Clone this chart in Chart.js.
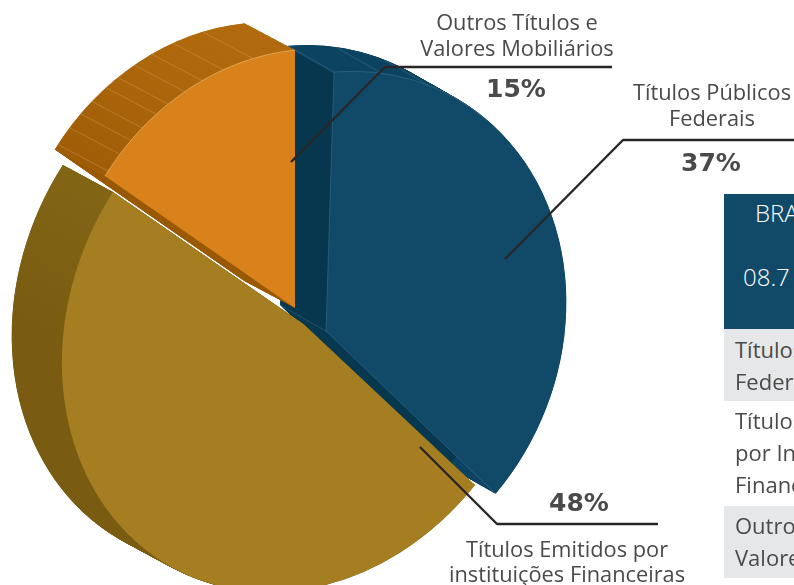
<!DOCTYPE html>
<html>
<head>
<meta charset="utf-8">
<script src="https://cdn.jsdelivr.net/npm/chart.js@4/dist/chart.umd.min.js"></script>
<style>
  html, body { margin: 0; padding: 0; background: #fff; overflow: hidden; }
  #wrap { position: relative; width: 794px; height: 585px; overflow: hidden; }
  canvas { position: absolute; left: 0; top: 0; }
  #tbl { position: absolute; left: 724px; top: 194px; width: 70px; height: 384px; overflow: hidden;
         font-family: "Open Sans", sans-serif; font-size: 22px; color: #4a4a4a; }
  #tbl div { position: absolute; left: 0; width: 200px; white-space: nowrap; }
  #tbl span { position: absolute; white-space: nowrap; }
</style>
</head>
<body>
<div id="wrap">
  <canvas id="pie" width="794" height="585"></canvas>
  <div id="tbl"></div>
</div>
<script>
const categories = ['Títulos Públicos Federais', 'Títulos Emitidos por instituições Financeiras', 'Outros Títulos e Valores Mobiliários'];
const shares = [37, 48, 15];
const faceColors = ['#104A68', '#A67E22', '#D9811A'];

const tableHead = ['BRA', '08.7'];
const tableRows = [['Títulos Públicos', 'Federais'], ['Títulos Emitidos', 'por Instituições', 'Financeiras'], ['Outros Títulos e', 'Valores Mobiliários']];

// how each flat slice is laid on the page: centre, image of the up and right radius, extrusion
const sliceForms = [
    { cx: 326, cy: 331, up: [8, -259], right: [240, -20], wall: [-46, -26], wallColor: '#07384F', rim: ['#0C4361', '#0C4361', -1, 0], hatch: [0, 11.5, 23.6] },
    { cx: 304, cy: 324.4, up: [8, -266], right: [242, -29.6], wall: [-50, -27], wallColor: '#7A5C12', rim: ['#836516', '#795B11', -0.6, 0], hatch: [] },
    { cx: 295, cy: 308, up: [0, -258], right: [235, -24.4], wall: [-50, -26.5], wallColor: '#9A5A05', rim: ['#B16A0D', '#9B5A05', -1, -0.5], hatch: [-52.7, -48.2, -44.3, -40.6, -36.2, -32.7, -28, -23.3, -17.8, -10.3] }
];

const callouts = [
    { slice: 2, line: [[291, 162], [385, 67], [612, 67]], x: 517, names: [['Outros Títulos e', 30], ['Valores Mobiliários', 56]], pctX: 516, pctY: 97 },
    { slice: 0, line: [[505, 259], [623, 140], [794, 140]], x: 712, names: [['Títulos Públicos', 100], ['Federais', 126]], pctX: 711, pctY: 171 },
    { slice: 1, line: [[420, 447], [497, 524], [658, 524]], x: 567, names: [['Títulos Emitidos por', 557], ['instituições Financeiras', 582]], pctX: 579, pctY: 511 }
];

function applyForm(ctx, el, f) {
    const R = el.outerRadius;
    ctx.transform(f.right[0] / R, f.right[1] / R, -f.up[0] / R, -f.up[1] / R, f.cx, f.cy);
    ctx.translate(-el.x, -el.y);
}

function sectorPath(ctx, el) {
    ctx.beginPath();
    ctx.moveTo(el.x, el.y);
    ctx.arc(el.x, el.y, el.outerRadius, el.startAngle, el.endAngle);
    ctx.closePath();
}

function pagePoint(f, deg) {
    const t = deg * Math.PI / 180;
    return [f.cx + Math.cos(t) * f.up[0] + Math.sin(t) * f.right[0], f.cy + Math.cos(t) * f.up[1] + Math.sin(t) * f.right[1]];
}

function drawSlice(ctx, el, f) {
    const steps = Math.ceil(Math.hypot(f.wall[0], f.wall[1]));
    const R = el.outerRadius;

    // side walls first, swept from the far end to the face
    for (let s = steps; s >= 1; s--) {
        ctx.save();
        ctx.translate(f.wall[0] * s / steps, f.wall[1] * s / steps);
        applyForm(ctx, el, f);
        sectorPath(ctx, el);
        ctx.fillStyle = f.wallColor;
        ctx.fill();
        ctx.restore();
    }
    for (let s = steps; s >= 0; s--) {
        ctx.save();
        ctx.translate(f.wall[0] * s / steps, f.wall[1] * s / steps);
        applyForm(ctx, el, f);
        const g = ctx.createLinearGradient(0, el.y + f.rim[2] * R, 0, el.y + f.rim[3] * R);
        g.addColorStop(0, f.rim[0]);
        g.addColorStop(1, f.rim[1]);
        ctx.beginPath();
        ctx.arc(el.x, el.y, R - 1, el.startAngle, el.endAngle);
        ctx.strokeStyle = g;
        ctx.lineWidth = 2.5;
        ctx.stroke();
        ctx.restore();
    }

    // seams on the wall
    ctx.strokeStyle = el.$context.dataIndex === 2 ? 'rgba(255,225,170,0.26)' : 'rgba(170,215,235,0.2)';
    ctx.lineWidth = 0.8;
    f.hatch.forEach(deg => {
        const p = pagePoint(f, deg);
        ctx.beginPath();
        ctx.moveTo(p[0], p[1]);
        ctx.lineTo(p[0] + f.wall[0], p[1] + f.wall[1]);
        ctx.stroke();
    });

    ctx.save();
    applyForm(ctx, el, f);
    el.draw(ctx);
    ctx.restore();
}

const slicesPlugin = {
    id: 'slices',
    beforeDatasetsDraw(chart) {
        const ctx = chart.ctx;
        const arcs = chart.getDatasetMeta(0).data;
        arcs.forEach((el, i) => drawSlice(ctx, el, sliceForms[i]));

        // light hairlines around the faces
        const blue = sliceForms[0];
        const tip = [blue.cx, blue.cy];
        const top = pagePoint(blue, 0);
        const low = pagePoint(blue, 133.2);
        ctx.save();
        ctx.lineWidth = 0.8;
        ctx.strokeStyle = 'rgba(170,215,235,0.22)';
        ctx.beginPath();
        ctx.moveTo(top[0], top[1]);
        ctx.lineTo(tip[0], tip[1]);
        ctx.lineTo(low[0], low[1]);
        ctx.moveTo(tip[0], tip[1]);
        ctx.lineTo(tip[0] + blue.wall[0], tip[1] + blue.wall[1]);
        ctx.stroke();
        ctx.save();
        applyForm(ctx, arcs[0], blue);
        ctx.beginPath();
        ctx.arc(arcs[0].x, arcs[0].y, arcs[0].outerRadius, arcs[0].startAngle, arcs[0].startAngle + 0.7);
        ctx.restore();
        ctx.stroke();
        ctx.save();
        applyForm(ctx, arcs[2], sliceForms[2]);
        ctx.beginPath();
        ctx.arc(arcs[2].x, arcs[2].y, arcs[2].outerRadius, arcs[2].startAngle, arcs[2].endAngle);
        ctx.restore();
        ctx.strokeStyle = 'rgba(255,225,170,0.5)';
        ctx.stroke();
        ctx.restore();

        return false;
    },
    afterDraw(chart) {
        const ctx = chart.ctx;
        ctx.save();
        ctx.textAlign = 'center';
        ctx.textBaseline = 'alphabetic';
        callouts.forEach(c => {
            ctx.beginPath();
            c.line.forEach((p, i) => i ? ctx.lineTo(p[0], p[1]) : ctx.moveTo(p[0], p[1]));
            ctx.strokeStyle = '#2A2627';
            ctx.lineWidth = 2.4;
            ctx.lineJoin = 'round';
            ctx.stroke();

            ctx.fillStyle = '#4A4A4A';
            ctx.font = '21.8px "Open Sans"';
            c.names.forEach(n => ctx.fillText(n[0], c.x, n[1]));
            ctx.font = 'bold 25px "DejaVu Sans"';
            ctx.fillText(shares[c.slice] + '%', c.pctX, c.pctY);
        });
        ctx.restore();
    }
};

new Chart(document.getElementById('pie').getContext('2d'), {
    type: 'pie',
    data: {
        labels: categories,
        datasets: [{ data: shares, backgroundColor: faceColors, borderWidth: 0 }]
    },
    options: {
        responsive: false,
        animation: false,
        layout: { padding: 0 },
        plugins: { legend: { display: false }, tooltip: { enabled: false } }
    },
    plugins: [slicesPlugin]
});

// side table, cut off by the page edge
const tbl = document.getElementById('tbl');
function addBlock(top, height, color) {
    const d = document.createElement('div');
    d.style.top = top + 'px';
    d.style.height = height + 'px';
    d.style.background = color;
    tbl.appendChild(d);
}
function addText(text, left, top, color, size) {
    const s = document.createElement('span');
    s.textContent = text;
    s.style.left = left + 'px';
    s.style.top = top + 'px';
    if (color) s.style.color = color;
    if (size) { s.style.fontSize = size + 'px'; s.style.fontWeight = 300; }
    tbl.appendChild(s);
}
addBlock(0, 135, '#104A68');
addBlock(135, 72, '#E6E7E8');
addBlock(312, 72, '#E6E7E8');
addText(tableHead[0], 31, 2, '#FFFFFF', 24);
addText(tableHead[1], 19, 66, '#FFFFFF', 24);
const rowTops = [140, 211, 316];
tableRows.forEach((lines, r) => lines.forEach((t, i) => addText(t, 11, rowTops[r] + i * 32, null)));
</script>
</body>
</html>
